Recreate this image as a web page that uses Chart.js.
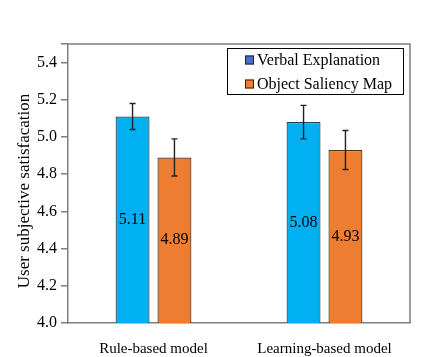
<!DOCTYPE html>
<html><head><meta charset="utf-8">
<script src="https://cdn.jsdelivr.net/npm/chart.js@4"></script>
<style>html,body{margin:0;padding:0;background:#fff;}#wrap{width:423px;height:357px;}</style>
</head><body><div id="wrap"><canvas id="c" width="423" height="357"></canvas></div>
<script>
const categories = ["Rule-based model", "Learning-based model"];
const seriesNames = ["Verbal Explanation", "Object Saliency Map"];
const verbalValues = [5.11, 5.08];
const saliencyValues = [4.89, 4.93];
const verbalErrors = [0.07, 0.09];
const saliencyErrors = [0.10, 0.105];
const legendColors = ["#4472C4", "#ED7D31"];
const yTitle = "User subjective satisfacation";

const FONT = "'Liberation Serif','Times New Roman',serif";
const errors = [verbalErrors, saliencyErrors];

const overlay = {
  id: 'overlay',
  afterDatasetsDraw(chart) {
    const ctx = chart.ctx, ca = chart.chartArea, y = chart.scales.y;
    ctx.save();
    ctx.strokeStyle = '#7f7f7f'; ctx.lineWidth = 1.5;
    ctx.beginPath();
    ctx.moveTo(ca.left, ca.top); ctx.lineTo(ca.right, ca.top); ctx.lineTo(ca.right, ca.bottom);
    ctx.stroke();
    chart.data.datasets.forEach((ds, di) => {
      const meta = chart.getDatasetMeta(di);
      meta.data.forEach((bar, i) => {
        const v = ds.data[i], e = errors[di][i];
        const yt = y.getPixelForValue(v + e), yb = y.getPixelForValue(v - e);
        ctx.strokeStyle = '#222'; ctx.lineWidth = 1.4;
        ctx.beginPath();
        ctx.moveTo(bar.x, yt); ctx.lineTo(bar.x, yb);
        ctx.moveTo(bar.x - 3, yt); ctx.lineTo(bar.x + 3, yt);
        ctx.moveTo(bar.x - 3, yb); ctx.lineTo(bar.x + 3, yb);
        ctx.stroke();
        const yMid = (y.getPixelForValue(v) + y.getPixelForValue(y.min)) / 2;
        ctx.fillStyle = '#000'; ctx.font = "16px " + FONT;
        ctx.textAlign = 'center'; ctx.textBaseline = 'middle';
        ctx.fillText(v.toFixed(2), bar.x, yMid);
      });
    });
    const lx = 227, ly = 48, lw = 176, lh = 46;
    ctx.fillStyle = '#fff'; ctx.fillRect(lx, ly, lw, lh);
    ctx.strokeStyle = '#000'; ctx.lineWidth = 1;
    ctx.strokeRect(lx + 0.5, ly + 0.5, lw, lh);
    chart.data.datasets.forEach((ds, di) => {
      const cy = ly + 12 + di * 24;
      ctx.fillStyle = legendColors[di];
      ctx.fillRect(245, cy - 4.5, 9, 9);
      ctx.strokeStyle = '#222'; ctx.lineWidth = 1;
      ctx.strokeRect(245.5, cy - 4, 8, 8);
      ctx.fillStyle = '#000'; ctx.font = "16px " + FONT;
      ctx.textAlign = 'left'; ctx.textBaseline = 'middle';
      ctx.fillText(ds.label, 257, cy + 1);
    });
    // y-axis title
    ctx.translate(25, 191);
    ctx.rotate(-Math.PI / 2);
    ctx.fillStyle = '#000'; ctx.font = "17px " + FONT;
    ctx.textAlign = 'center'; ctx.textBaseline = 'middle';
    ctx.fillText(yTitle, 0, 0);
    ctx.restore();
  }
};

new Chart(document.getElementById('c'), {
  type: 'bar',
  data: {
    labels: categories,
    datasets: [
      { label: seriesNames[0], data: verbalValues, backgroundColor: '#00B0F0', borderColor: '#24414f', borderWidth: 1.2, borderSkipped: false },
      { label: seriesNames[1], data: saliencyValues, backgroundColor: '#ED7D31', borderColor: '#4f2e17', borderWidth: 1.2, borderSkipped: false }
    ]
  },
  options: {
    responsive: false, animation: false,
    layout: { padding: { top: 44, right: 13, left: 0, bottom: 0 } },
    categoryPercentage: 0.49, barPercentage: 0.81,
    plugins: { legend: { display: false }, tooltip: { enabled: false } },
    scales: {
      x: {
        grid: { display: false },
        border: { color: '#7f7f7f', width: 1.5 },
        ticks: { color: '#000', font: { family: FONT, size: 15 }, padding: 9 },
        afterFit(s) { s.height = 34; }
      },
      y: {
        min: 4, max: 5.5,
        grid: { drawOnChartArea: false, drawTicks: true, tickLength: 7, color: '#7f7f7f', lineWidth: 1.5 },
        border: { color: '#7f7f7f', width: 1.5 },
        ticks: { stepSize: 0.2, color: '#000', font: { family: FONT, size: 16 }, padding: 4,
          callback: (v) => (v > 5.45 ? '' : Number(v).toFixed(1)) },
        title: { display: false },
        afterFit(s) { s.width = 68; }
      }
    }
  },
  plugins: [overlay]
});
</script></body></html>
